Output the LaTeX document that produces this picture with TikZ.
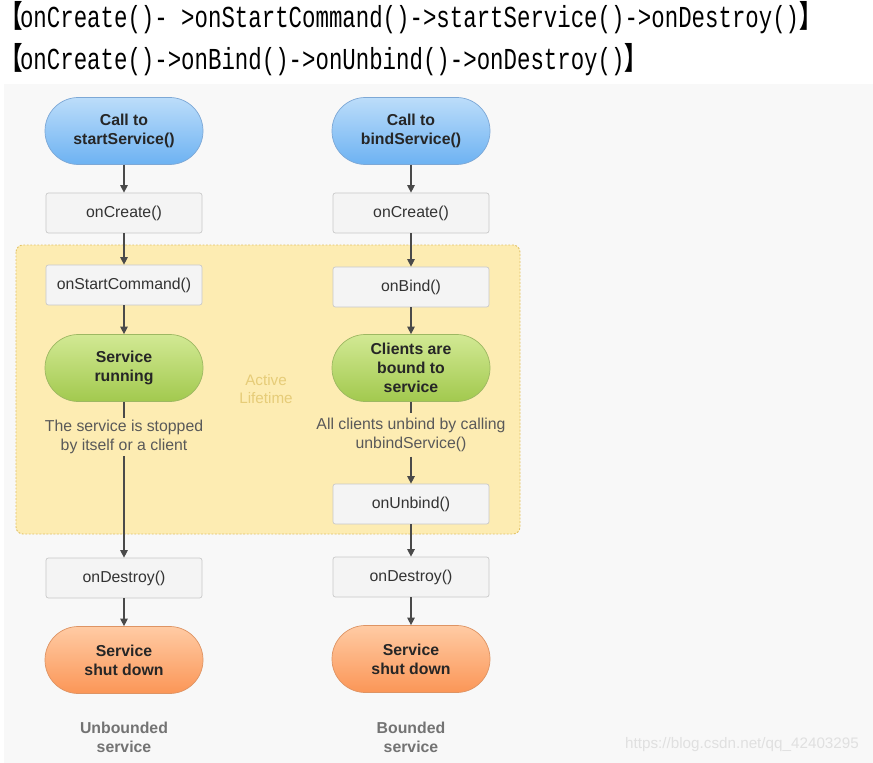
\documentclass[tikz,border=0pt]{standalone}
\usepackage{fontspec}
\setmainfont{Liberation Sans}
\newfontfamily\monofont{Liberation Mono}
\newfontfamily\cjk{Noto Sans CJK SC}
\usetikzlibrary{arrows.meta}
\definecolor{panelgray}{HTML}{F8F8F8}
\definecolor{lifeyellow}{HTML}{FDECB2}
\definecolor{lifeborder}{HTML}{E2C266}
\definecolor{lifetext}{HTML}{E6CC78}
\definecolor{boxfill}{HTML}{F4F4F4}
\definecolor{boxline}{HTML}{C8C8C8}
\definecolor{flowline}{HTML}{4A4A4A}
\definecolor{bluetop}{HTML}{BCDDFA}
\definecolor{bluebot}{HTML}{6DB2F2}
\definecolor{blueline}{HTML}{7DA8D6}
\definecolor{greentop}{HTML}{D2E994}
\definecolor{greenbot}{HTML}{A2C94E}
\definecolor{greenline}{HTML}{9DB862}
\definecolor{orangetop}{HTML}{FFCBA4}
\definecolor{orangebot}{HTML}{FB9657}
\definecolor{orangeline}{HTML}{DE9464}
\def\lbr{{\cjk\bfseries【}\kern-3pt}
\def\rbr{{\cjk\bfseries】}}

\begin{document}
\begin{tikzpicture}[x=0.03cm, y=-0.03cm,
    pill/.style={shade, minimum width=4.74cm, minimum height=2.01cm,
      rounded corners=1cm, align=center, line width=0.6pt,
      font=\fontsize{13.5}{16}\selectfont\bfseries, text=black!85},
    bluepill/.style={pill, top color=bluetop, bottom color=bluebot, draw=blueline},
    greenpill/.style={pill, top color=greentop, bottom color=greenbot, draw=greenline},
    orangepill/.style={pill, top color=orangetop, bottom color=orangebot, draw=orangeline},
    callbox/.style={draw=boxline, fill=boxfill, rounded corners=2pt, line width=0.6pt,
      minimum width=4.68cm, minimum height=1.2cm,
      font=\fontsize{13.5}{16}\selectfont, text=black!80},
    note/.style={align=center, font=\fontsize{13.5}{16}\selectfont, text=black!65, inner sep=2pt},
    caption/.style={align=center, font=\fontsize{13.5}{16}\selectfont\bfseries, text=black!55},
    flow/.style={draw=flowline, line width=1.1pt},
    arrow/.style={flow, -{Triangle[length=6.5pt, width=6.5pt]}}]
    %%%%% START %%%%%

    \useasboundingbox (0, 0) rectangle (873, 763);
    \fill[white] (0, 0) rectangle (873, 763);
    \fill[panelgray] (4, 84) rectangle (873, 763);

    % lifecycles written out
    \node[anchor=west, inner sep=0pt] (seqStart) at (0, 18)
      {\scalebox{0.735}[1]{\fontsize{26}{28}\selectfont\monofont\lbr onCreate()- >onStartCommand()->startService()->onDestroy()\rbr}};
    \node[anchor=west, inner sep=0pt] (seqBind) at (0, 60)
      {\scalebox{0.735}[1]{\fontsize{26}{28}\selectfont\monofont\lbr onCreate()->onBind()->onUnbind()->onDestroy()\rbr}};

    % active lifetime
    \draw[lifeborder, fill=lifeyellow, rounded corners=6pt, line width=0.8pt,
      dash pattern=on 1.6pt off 1.4pt] (16, 245) rectangle (520, 534);
    \node[align=center, font=\fontsize{13}{16}\selectfont, text=lifetext] (life) at (266, 389) {Active\\Lifetime};

    % unbounded service
    \node[bluepill] (callStart) at (124, 131) {Call to\\startService()};
    \node[callbox] (createL) at (124, 213) {onCreate()};
    \node[callbox] (startCmd) at (124, 285) {onStartCommand()};
    \node[greenpill] (running) at (124, 368) {Service\\running};
    \node[note] (stopped) at (124, 437) {The service is stopped\\by itself or a client};
    \node[callbox] (destroyL) at (124, 578) {onDestroy()};
    \node[orangepill] (downL) at (124, 660) {Service\\shut down};
    \node[caption] (unbounded) at (124, 737) {Unbounded\\service};

    % bounded service
    \node[bluepill] (callBind) at (411, 131) {Call to\\bindService()};
    \node[callbox] (createR) at (411, 213) {onCreate()};
    \node[callbox] (bind) at (411, 287) {onBind()};
    \node[greenpill] (bound) at (411, 368) {Clients are\\bound to\\service};
    \node[note, inner sep=4pt] (unbindAll) at (411, 435) {All clients unbind by calling\\unbindService()};
    \node[callbox] (unbind) at (411, 504) {onUnbind()};
    \node[callbox] (destroyR) at (411, 577) {onDestroy()};
    \node[orangepill] (downR) at (411, 659) {Service\\shut down};
    \node[caption] (bounded) at (411, 737) {Bounded\\service};

    \draw[arrow] (callStart) -- (createL);
    \draw[arrow] (createL) -- (startCmd);
    \draw[arrow] (startCmd) -- (running);
    \draw[flow] (running) -- (stopped);
    \draw[arrow] (stopped) -- (destroyL);
    \draw[arrow] (destroyL) -- (downL);

    \draw[arrow] (callBind) -- (createR);
    \draw[arrow] (createR) -- (bind);
    \draw[arrow] (bind) -- (bound);
    \draw[flow] (bound) -- (unbindAll);
    \draw[arrow] (unbindAll) -- (unbind);
    \draw[arrow] (unbind) -- (destroyR);
    \draw[arrow] (destroyR) -- (downR);

    \node[font=\fontsize{13}{16}\selectfont, text=black!12] (mark) at (742, 745) {https://blog.csdn.net/qq\_42403295};

    %%%%% END %%%%%
\end{tikzpicture}
\end{document}
